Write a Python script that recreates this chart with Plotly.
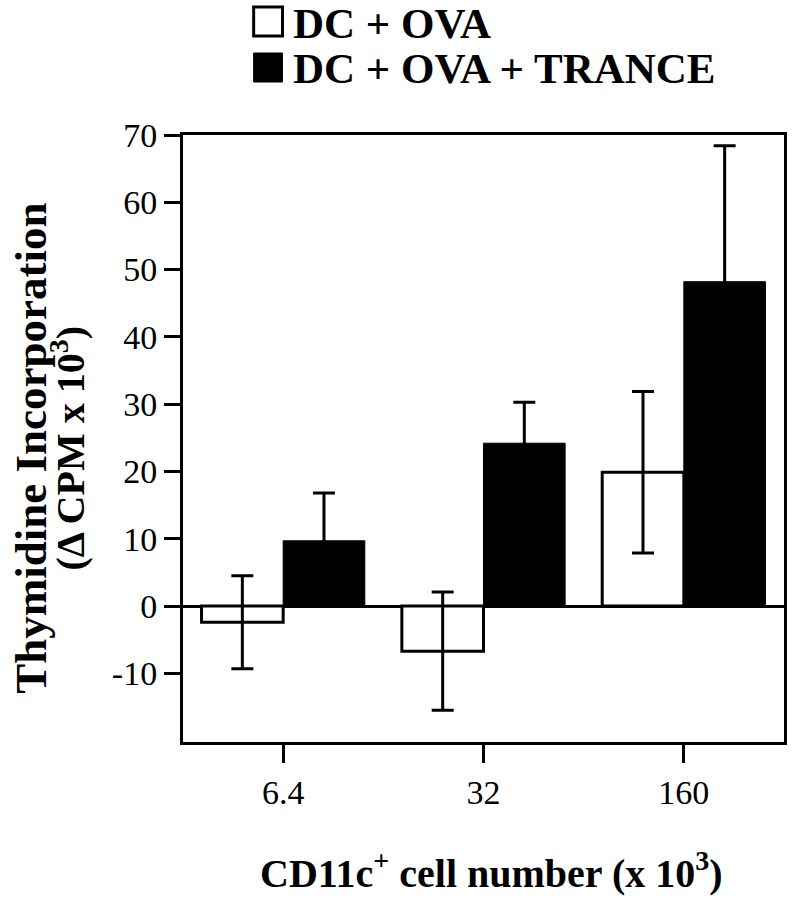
import plotly.graph_objects as go

categories = ["6.4", "32", "160"]
ova_values = [-2.4, -6.7, 19.9]
ova_errors = [6.9, 8.8, 12.0]
trance_values = [9.7, 24.2, 48.2]
trance_errors = [7.1, 6.1, 20.2]
y_ticks = [-10, 0, 10, 20, 30, 40, 50, 60, 70]
legend_names = ["DC + OVA", "DC + OVA + TRANCE"]

W, H = 795, 899
# plot area in page pixels
L, R, T, B = 183, 787, 135, 742

FONT = "Liberation Serif, Times New Roman, serif"

fig = go.Figure()
fig.add_trace(go.Bar(
    x=categories, y=ova_values, name=legend_names[0],
    marker=dict(color="white", line=dict(color="black", width=3)),
    error_y=dict(type="data", array=ova_errors, color="black", thickness=3, width=11),
    showlegend=False,
))
fig.add_trace(go.Bar(
    x=categories, y=trance_values, name=legend_names[1],
    marker=dict(color="black", line=dict(color="black", width=1)),
    error_y=dict(type="data", array=trance_errors, color="black", thickness=3, width=11),
    showlegend=False,
))

def px(xp):
    return (xp - L) / (R - L)

def py(yp):
    return (B - yp) / (B - T)

shapes = [
    dict(type="rect", xref="paper", yref="paper", x0=px(254), x1=px(283), y0=py(36), y1=py(7),
         line=dict(color="black", width=3), fillcolor="white"),
    dict(type="rect", xref="paper", yref="paper", x0=px(254), x1=px(283), y0=py(82), y1=py(53),
         line=dict(color="black", width=1), fillcolor="black"),
]

annotations = [
    dict(text=legend_names[0], xref="paper", yref="paper", x=px(292), y=py(23),
         xanchor="left", yanchor="middle", showarrow=False, height=44,
         font=dict(family=FONT, size=43, color="black", weight="bold")),
    dict(text=legend_names[1], xref="paper", yref="paper", x=px(292), y=py(68),
         xanchor="left", yanchor="middle", showarrow=False, height=44,
         font=dict(family=FONT, size=43, color="black", weight="bold")),
    dict(text="Thymidine Incorporation", xref="paper", yref="paper", x=px(30), y=py(448),
         xanchor="center", yanchor="middle", textangle=-90, showarrow=False,
         font=dict(family=FONT, size=45, color="black", weight="bold")),
    dict(text="(\u0394 CPM x 10<sup>3</sup>)", xref="paper", yref="paper", x=px(67), y=py(448),
         xanchor="center", yanchor="middle", textangle=-90, showarrow=False,
         font=dict(family=FONT, size=40, color="black", weight="bold")),
    dict(text="CD11c<sup>+</sup> cell number (x 10<sup>3</sup>)", xref="paper", yref="paper",
         x=px(493), y=py(870), xanchor="center", yanchor="middle", showarrow=False,
         font=dict(family=FONT, size=40, color="black", weight="bold")),
]

fig.update_layout(
    width=W, height=H,
    margin=dict(l=L, r=W - R, t=T, b=H - B, pad=0),
    paper_bgcolor="white", plot_bgcolor="white",
    barmode="group", bargap=0.185, bargroupgap=0,
    shapes=shapes, annotations=annotations,
    font=dict(family=FONT, color="black"),
)
fig.update_xaxes(
    type="category", range=[-0.5, 2.5],
    showline=True, linecolor="black", linewidth=3, mirror=True,
    ticks="outside", ticklen=18, tickwidth=3, tickcolor="black",
    tickfont=dict(family=FONT, size=34, color="black"),
    showgrid=False, zeroline=False,
)
fig.update_yaxes(
    range=[-20.2, 70], tickvals=y_ticks, ticktext=[str(v) for v in y_ticks],
    showline=True, linecolor="black", linewidth=3, mirror=True,
    ticks="outside", ticklen=16, tickwidth=3, tickcolor="black",
    tickfont=dict(family=FONT, size=34, color="black"),
    showgrid=False, zeroline=True, zerolinecolor="black", zerolinewidth=3,
)

fig.write_html(
    "out.html",
    config={"displayModeBar": False},
    post_script="document.body.style.margin='0';document.body.style.padding='0';",
)
